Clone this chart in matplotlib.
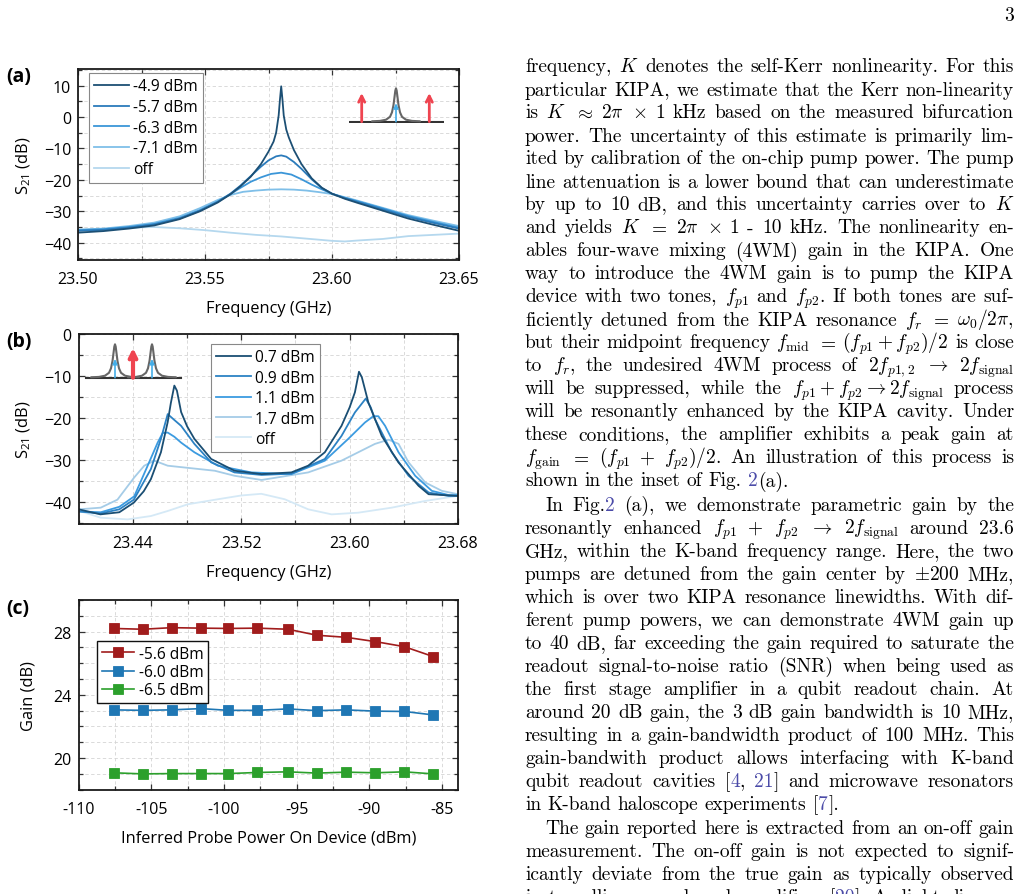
import matplotlib
matplotlib.use("Agg")
import matplotlib.pyplot as plt
from matplotlib.ticker import MultipleLocator, FuncFormatter, FormatStrFormatter

W, H = 1021, 895
plt.rcParams["font.family"] = ["Open Sans", "DejaVu Sans"]
plt.rcParams["axes.unicode_minus"] = True

# ---------------- panel (a): single-pump spectra ----------------
a_labels = ["-4.9 dBm", "-5.7 dBm", "-6.3 dBm", "-7.1 dBm", "off"]
a_colors = ["#1c4f74", "#2b7bbb", "#3b96d8", "#7fbfe8", "#b5d8ee"]

a_f_49 = [23.500, 23.510, 23.520, 23.530, 23.540, 23.548, 23.555, 23.560, 23.564, 23.568,
          23.572, 23.575, 23.577, 23.578, 23.579, 23.5795, 23.580, 23.5805, 23.581, 23.582,
          23.583, 23.585, 23.588, 23.592, 23.596, 23.600, 23.605, 23.610, 23.620, 23.630,
          23.640, 23.650]
a_s_49 = [-36.8, -36.3, -35.5, -34.5, -32.5, -30.0, -27.2, -24.6, -22.0, -19.0,
          -15.0, -11.0, -7.8, -5.0, 0.5, 5.5, 9.8, 5.5, 0.5, -4.0,
          -6.5, -10.5, -15.0, -19.5, -22.5, -24.4, -26.0, -27.3, -29.8, -32.3,
          -34.3, -36.2]

a_f_57 = [23.500, 23.510, 23.520, 23.530, 23.540, 23.548, 23.555, 23.560, 23.564, 23.568,
          23.572, 23.575, 23.578, 23.580, 23.582, 23.585, 23.588, 23.592, 23.596, 23.600,
          23.605, 23.610, 23.620, 23.630, 23.640, 23.650]
a_s_57 = [-36.2, -35.9, -35.2, -34.2, -32.3, -29.8, -27.0, -24.4, -21.8, -18.8,
          -15.8, -13.8, -12.5, -12.2, -12.6, -14.3, -16.5, -19.8, -22.6, -24.4,
          -25.8, -27.0, -29.4, -31.8, -33.7, -35.5]

a_f_63 = [23.500, 23.510, 23.520, 23.530, 23.540, 23.548, 23.555, 23.560, 23.564, 23.568,
          23.572, 23.576, 23.580, 23.584, 23.588, 23.592, 23.596, 23.600, 23.605, 23.610,
          23.620, 23.630, 23.640, 23.650]
a_s_63 = [-36.0, -35.7, -35.0, -34.0, -32.1, -29.6, -26.9, -24.5, -22.5, -20.6,
          -19.2, -18.1, -17.7, -18.3, -19.8, -21.5, -23.0, -24.4, -25.7, -26.8,
          -29.1, -31.5, -33.4, -35.2]

a_f_71 = [23.500, 23.510, 23.520, 23.530, 23.540, 23.548, 23.555, 23.560, 23.565, 23.570,
          23.575, 23.580, 23.585, 23.590, 23.595, 23.600, 23.605, 23.610, 23.620, 23.630,
          23.640, 23.650]
a_s_71 = [-35.8, -35.5, -34.7, -33.6, -31.6, -29.0, -26.4, -24.8, -23.8, -23.4,
          -23.1, -23.0, -23.1, -23.4, -23.9, -24.5, -25.5, -26.6, -28.9, -31.2,
          -33.0, -34.7]

a_f_off = [23.500, 23.510, 23.520, 23.530, 23.540, 23.550, 23.560, 23.570, 23.580, 23.590,
           23.600, 23.605, 23.610, 23.620, 23.630, 23.640, 23.650]
a_s_off = [-36.2, -35.7, -35.2, -35.0, -35.4, -36.0, -36.8, -37.5, -38.0, -38.7,
           -39.4, -39.6, -39.3, -38.8, -37.9, -37.5, -37.1]

# ---------------- panel (b): two-pump spectra ----------------
b_labels = ["0.7 dBm", "0.9 dBm", "1.1 dBm", "1.7 dBm", "off"]
b_colors = ["#1a4e73", "#2c82c4", "#3c9be0", "#a5cce7", "#d5e9f6"]

b_f_07 = [23.400, 23.416, 23.430, 23.4407, 23.448, 23.4533, 23.4607, 23.4657, 23.468, 23.4706,
          23.4725, 23.4756, 23.480, 23.4854, 23.4978, 23.515, 23.535, 23.557, 23.5694, 23.5817,
          23.594, 23.600, 23.6039, 23.6069, 23.609, 23.6138, 23.6237, 23.636, 23.6509, 23.6583,
          23.680]
b_s_07 = [-41.8, -43.0, -42.5, -40.2, -37.5, -34.6, -28.2, -21.0, -16.5, -12.3,
          -13.5, -18.6, -22.0, -25.0, -29.8, -32.6, -33.4, -33.0, -31.4, -28.2,
          -21.9, -17.5, -13.9, -9.0, -10.3, -16.3, -24.3, -30.6, -36.2, -38.2,
          -38.6]

b_f_09 = [23.400, 23.416, 23.430, 23.4407, 23.4533, 23.4607, 23.4657, 23.4706, 23.4756, 23.4854,
          23.4978, 23.515, 23.535, 23.557, 23.5817, 23.594, 23.6039, 23.6119, 23.6156, 23.6187,
          23.6311, 23.6435, 23.6583, 23.6731, 23.680]
b_s_09 = [-42.3, -42.8, -41.8, -39.5, -32.2, -25.0, -19.1, -20.5, -21.9, -26.2,
          -30.6, -33.0, -33.6, -33.3, -29.8, -24.3, -18.7, -15.4, -17.5, -20.3,
          -28.2, -33.8, -37.8, -38.6, -38.6]

b_f_11 = [23.4005, 23.4163, 23.430, 23.441, 23.4509, 23.4583, 23.462, 23.4657, 23.4706, 23.4756,
          23.4854, 23.5027, 23.5274, 23.557, 23.5817, 23.599, 23.6113, 23.6175, 23.6212, 23.6262,
          23.6361, 23.6484, 23.6607, 23.6731, 23.680]
b_s_11 = [-42.3, -42.5, -41.2, -38.7, -31.4, -25.9, -23.6, -23.5, -24.5, -25.9,
          -28.2, -31.4, -33.0, -33.4, -30.2, -25.0, -21.1, -19.6, -19.6, -21.9,
          -28.2, -33.8, -37.4, -38.4, -38.4]

b_f_17 = [23.4005, 23.4163, 23.4286, 23.441, 23.4484, 23.4558, 23.4657, 23.5004, 23.515, 23.535,
          23.5447, 23.5694, 23.594, 23.6187, 23.6287, 23.6361, 23.6435, 23.6558, 23.6681, 23.680]
b_s_17 = [-41.8, -41.4, -39.5, -34.2, -31.4, -30.2, -31.4, -32.6, -33.8, -34.8,
          -34.3, -33.0, -30.2, -26.2, -25.2, -26.2, -30.6, -35.4, -37.4, -38.2]

b_f_off = [23.4005, 23.4163, 23.4361, 23.4533, 23.4657, 23.4805, 23.5027, 23.520, 23.5348, 23.5521,
           23.5694, 23.5867, 23.6064, 23.6311, 23.6558, 23.680]
b_s_off = [-42.2, -43.8, -44.2, -43.4, -42.2, -40.6, -39.4, -38.5, -38.1, -39.4,
           -41.8, -43.0, -42.6, -41.4, -39.8, -38.6]

# ---------------- panel (c): gain vs probe power ----------------
c_power = [-107.6, -105.6, -103.6, -101.6, -99.7, -97.7, -95.6, -93.6, -91.6, -89.6, -87.6, -85.6]
c_gain_56 = [28.20, 28.15, 28.25, 28.22, 28.20, 28.22, 28.15, 27.77, 27.64, 27.37, 27.05, 26.42]
c_gain_60 = [23.05, 23.02, 23.05, 23.13, 23.02, 23.02, 23.11, 23.00, 23.05, 22.97, 22.95, 22.73]
c_gain_65 = [19.07, 19.00, 19.02, 19.02, 19.02, 19.09, 19.13, 19.05, 19.11, 19.07, 19.13, 19.00]
c_labels = ["-5.6 dBm", "-6.0 dBm", "-6.5 dBm"]
c_colors = ["#a11c1c", "#1f77b4", "#2ca02c"]

# inset schematic (Lorentzian sketch) in inset pixel units
peak_dx = [-24, -16, -10, -6, -4, -2.5, -1.5, -0.7, 0, 0.7, 1.5, 2.5, 4, 6, 10, 16, 24]
peak_h = [0.4, 0.8, 2.0, 4.9, 9.4, 16.7, 24.6, 31.0, 33.4, 31.0, 24.6, 16.7, 9.4, 4.9, 2.0, 0.8, 0.4]

TICK_FS = 11.5
LABEL_FS = 11.8
LEG_FS = 11.2


def px_rect(x0, y0, x1, y1):
    return [x0 / W, 1 - y1 / H, (x1 - x0) / W, (y1 - y0) / H]


def style_axes(ax):
    for sp in ax.spines.values():
        sp.set_linewidth(1.3)
        sp.set_color("#1a1a1a")
    ax.tick_params(which="both", direction="in", top=True, right=True,
                   width=0.9, color="#333333", labelsize=TICK_FS)
    ax.tick_params(which="major", length=4)
    ax.tick_params(which="minor", length=3)
    ax.tick_params(axis="x", which="both", pad=8)
    ax.tick_params(axis="y", which="both", pad=5)
    ax.grid(True, which="both", ls=(0, (4, 3)), lw=0.6, color="#d4d4d4")
    ax.set_axisbelow(True)


def draw_peak(ax, xc, base, color="#666666"):
    ax.plot([xc + d for d in peak_dx], [base + h for h in peak_h], color=color, lw=1.5,
            solid_capstyle="round")


def up_arrow(ax, x, y0, y1, color, lw, scale, style="->"):
    ax.annotate("", xy=(x, y1), xytext=(x, y0),
                arrowprops=dict(arrowstyle=style, color=color, lw=lw,
                                mutation_scale=scale, shrinkA=0, shrinkB=0))


fig = plt.figure(figsize=(W / 100, H / 100), dpi=100)

# ---------- (a) ----------
ax_a = fig.add_axes(px_rect(78, 70, 459, 261))
a_f = [a_f_49, a_f_57, a_f_63, a_f_71, a_f_off]
a_s = [a_s_49, a_s_57, a_s_63, a_s_71, a_s_off]
handles = []
for k in range(4, -1, -1):
    ln, = ax_a.plot(a_f[k], a_s[k], color=a_colors[k], lw=1.3, label=a_labels[k])
    handles.append(ln)
handles = handles[::-1]
ax_a.set_xlim(23.50, 23.65)
ax_a.set_ylim(-45.5, 15.3)
ax_a.xaxis.set_major_locator(MultipleLocator(0.05))
ax_a.xaxis.set_minor_locator(MultipleLocator(0.025))
ax_a.xaxis.set_major_formatter(FormatStrFormatter("%.2f"))
ax_a.yaxis.set_major_locator(MultipleLocator(10))
ax_a.yaxis.set_minor_locator(MultipleLocator(5))
style_axes(ax_a)
ax_a.set_xlabel("Frequency (GHz)", fontsize=LABEL_FS, labelpad=9)
ax_a.set_ylabel(r"S$_{\mathregular{21}}$ (dB)", fontsize=LABEL_FS, labelpad=8)
leg = ax_a.legend(handles=handles, loc="upper left", bbox_to_anchor=(89 / W, 1 - 74 / H),
                  bbox_transform=fig.transFigure, borderaxespad=0, fontsize=LEG_FS,
                  frameon=True, fancybox=False, edgecolor="#888888", framealpha=1,
                  handlelength=2.2, handletextpad=0.3, labelspacing=0.3, borderpad=0.35)
leg.get_frame().set_linewidth(0.8)

ins_a = fig.add_axes(px_rect(349, 86, 444, 124))
ins_a.set_xlim(0, 95)
ins_a.set_ylim(0, 38)
ins_a.axis("off")
ins_a.patch.set_alpha(0)
ins_a.plot([0, 95], [1.3, 1.3], color="#333333", lw=1.5)
draw_peak(ins_a, 47, 1.3)
up_arrow(ins_a, 47, 1.3, 19.7, "#45aee8", 1.2, 7, "-|>")
up_arrow(ins_a, 12.7, 1.3, 30, "#ef4450", 2.0, 11)
up_arrow(ins_a, 80.3, 1.3, 30, "#ef4450", 2.0, 11)

# ---------- (b) ----------
ax_b = fig.add_axes(px_rect(78.7, 335, 458, 525))
b_f = [b_f_07, b_f_09, b_f_11, b_f_17, b_f_off]
b_s = [b_s_07, b_s_09, b_s_11, b_s_17, b_s_off]
handles = []
for k in range(4, -1, -1):
    ln, = ax_b.plot(b_f[k], b_s[k], color=b_colors[k], lw=1.3, label=b_labels[k])
    handles.append(ln)
handles = handles[::-1]
ax_b.set_xlim(23.40, 23.68)
ax_b.set_ylim(-45.3, 0)
ax_b.set_xticks([23.44, 23.52, 23.60, 23.68])
ax_b.set_xticks([23.40, 23.48, 23.56, 23.64], minor=True)
ax_b.xaxis.set_major_formatter(FormatStrFormatter("%.2f"))
ax_b.yaxis.set_major_locator(MultipleLocator(10))
ax_b.yaxis.set_minor_locator(MultipleLocator(5))
style_axes(ax_b)
ax_b.set_xlabel("Frequency (GHz)", fontsize=LABEL_FS, labelpad=9)
ax_b.set_ylabel(r"S$_{\mathregular{21}}$ (dB)", fontsize=LABEL_FS, labelpad=8)
leg = ax_b.legend(handles=handles, loc="upper left", bbox_to_anchor=(211 / W, 1 - 345 / H),
                  bbox_transform=fig.transFigure, borderaxespad=0, fontsize=LEG_FS,
                  frameon=True, fancybox=False, edgecolor="#888888", framealpha=1,
                  handlelength=2.2, handletextpad=0.3, labelspacing=0.28, borderpad=0.35)
leg.get_frame().set_linewidth(0.8)

ins_b = fig.add_axes(px_rect(84, 340, 184, 381))
ins_b.set_xlim(0, 100)
ins_b.set_ylim(0, 41)
ins_b.axis("off")
ins_b.patch.set_alpha(0)
ins_b.plot([2, 97], [2.3, 2.3], color="#333333", lw=1.5)
draw_peak(ins_b, 31, 2.3)
draw_peak(ins_b, 68, 2.3)
up_arrow(ins_b, 31, 2.3, 21, "#45aee8", 1.2, 7, "-|>")
up_arrow(ins_b, 68, 2.3, 21, "#45aee8", 1.2, 7, "-|>")
up_arrow(ins_b, 49, 2.3, 32, "#ef4450", 3.0, 12)

# ---------- (c) ----------
ax_c = fig.add_axes(px_rect(78.7, 601, 458, 790.7))
for g, lab, col in zip([c_gain_56, c_gain_60, c_gain_65], c_labels, c_colors):
    ax_c.plot(c_power, g, color=col, lw=1.2, marker="s", markersize=6.5,
              markeredgecolor=col, markeredgewidth=0.6, label=lab)
ax_c.set_xlim(-110, -83.9)
ax_c.set_ylim(18, 30)
ax_c.xaxis.set_major_locator(MultipleLocator(5))
ax_c.xaxis.set_minor_locator(MultipleLocator(2.5))
ax_c.xaxis.set_major_formatter(FuncFormatter(lambda v, p: f"{v:.0f}"))
ax_c.yaxis.set_major_locator(MultipleLocator(4))
ax_c.yaxis.set_minor_locator(MultipleLocator(1))
style_axes(ax_c)
ax_c.set_xlabel("Inferred Probe Power On Device (dBm)", fontsize=LABEL_FS, labelpad=9)
ax_c.set_ylabel("Gain (dB)", fontsize=LABEL_FS, labelpad=12)
leg = ax_c.legend(loc="upper left", bbox_to_anchor=(97 / W, 1 - 642 / H),
                  bbox_transform=fig.transFigure, borderaxespad=0, fontsize=LEG_FS,
                  frameon=True, fancybox=False, edgecolor="#111111", framealpha=1,
                  handlelength=2.1, handletextpad=0.3, labelspacing=0.15, borderpad=0.3)
leg.get_frame().set_linewidth(1.0)

for lab, y in [("(a)", 76.7), ("(b)", 341.7), ("(c)", 609)]:
    fig.text(6 / W, 1 - y / H, lab, fontsize=14, fontweight="bold", va="center", ha="left")

# ---------------- right column text (justified) ----------------
body_lines = [
    r"frequency, $K$ denotes the self-Kerr nonlinearity. For this",
    r"particular KIPA, we estimate that the Kerr non-linearity",
    r"is $K$ $\approx$ $2\pi$ $\times$ 1 kHz based on the measured bifurcation",
    r"power. The uncertainty of this estimate is primarily lim-",
    r"ited by calibration of the on-chip pump power. The pump",
    r"line attenuation is a lower bound that can underestimate",
    r"by up to 10 dB, and this uncertainty carries over to $K$",
    r"and yields $K$ $=$ $2\pi$ $\times$ 1 - 10 kHz. The nonlinearity en-",
    r"ables four-wave mixing (4WM) gain in the KIPA. One",
    r"way to introduce the 4WM gain is to pump the KIPA",
    r"device with two tones, $f_{p1}$ and $f_{p2}$. If both tones are suf-",
    r"ficiently detuned from the KIPA resonance $f_r$ $=$ $\omega_0/2\pi$,",
    r"but their midpoint frequency $f_{\mathrm{mid}}$ $=$ $(f_{p1}+f_{p2})/2$ is close",
    r"to $f_r$, the undesired 4WM process of $2f_{p1,2}$ $\rightarrow$ $2f_{\mathrm{signal}}$",
    r"will be suppressed, while the $f_{p1}+f_{p2}\rightarrow2f_{\mathrm{signal}}$ process",
    r"will be resonantly enhanced by the KIPA cavity. Under",
    r"these conditions, the amplifier exhibits a peak gain at",
    r"$f_{\mathrm{gain}}$ $=$ $(f_{p1}$ $+$ $f_{p2})/2$. An illustration of this process is",
    r"shown in the inset of Fig. §2§(a).",
    r"In Fig.§2§ (a), we demonstrate parametric gain by the",
    r"resonantly enhanced $f_{p1}$ $+$ $f_{p2}$ $\rightarrow$ $2f_{\mathrm{signal}}$ around 23.6",
    r"GHz, within the K-band frequency range. Here, the two",
    r"pumps are detuned from the gain center by $\pm$200 MHz,",
    r"which is over two KIPA resonance linewidths. With dif-",
    r"ferent pump powers, we can demonstrate 4WM gain up",
    r"to 40 dB, far exceeding the gain required to saturate the",
    r"readout signal-to-noise ratio (SNR) when being used as",
    r"the first stage amplifier in a qubit readout chain. At",
    r"around 20 dB gain, the 3 dB gain bandwidth is 10 MHz,",
    r"resulting in a gain-bandwidth product of 100 MHz. This",
    r"gain-bandwith product allows interfacing with K-band",
    r"qubit readout cavities [§4§, §21§] and microwave resonators",
    r"in K-band haloscope experiments [§7§].",
    r"The gain reported here is extracted from an on-off gain",
    r"measurement. The on-off gain is not expected to signif-",
    r"icantly deviate from the true gain as typically observed",
    r"in travelling wave-based amplifiers [§20§]. A slight discrep-",
]
para_start = {19, 33}
para_end = {18, 32}

BODY_FS = 14.0
LINK = "#4b4ba8"
X_LEFT, X_RIGHT = 525.0, 1014.0
INDENT = 20.0
LINE_STEP = 23.0
FIRST_BASE = 72.5

renderer = fig.canvas.get_renderer()
space_px = 0.333 * BODY_FS * 100 / 72

n_par = 0
for i, line in enumerate(body_lines):
    if i in para_start:
        n_par += 1
    base = FIRST_BASE + i * LINE_STEP + 1.5 * n_par
    words = []
    for w in line.split(" "):
        segs = []
        for k, s in enumerate(w.split("§")):
            if not s:
                continue
            t = fig.text(0, 1 - base / H, s, fontsize=BODY_FS, family="cmr10",
                         math_fontfamily="cm", color=LINK if k % 2 else "black",
                         ha="left", va="baseline")
            segs.append((t, t.get_window_extent(renderer).width))
        words.append(segs)
    x0 = X_LEFT + (INDENT if i in para_start else 0.0)
    total = sum(wd for segs in words for _, wd in segs)
    if i in para_end or len(words) < 2:
        gap = space_px
    else:
        gap = max((X_RIGHT - x0 - total) / (len(words) - 1), 2.0)
    x = x0
    for segs in words:
        for t, wd in segs:
            t.set_x(x / W)
            x += wd
        x += gap

fig.text(1014 / W, 1 - 20.7 / H, "3", fontsize=BODY_FS, family="cmr10",
         ha="right", va="baseline")

fig.savefig("out.png", dpi=100)
